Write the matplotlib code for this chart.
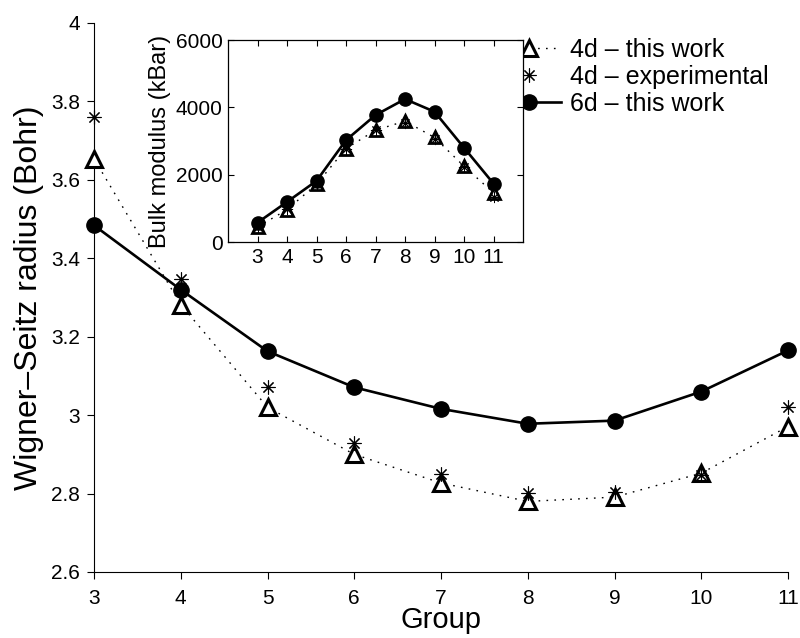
import matplotlib
matplotlib.use('Agg')
import matplotlib.pyplot as plt
from matplotlib.ticker import FuncFormatter

plt.rcParams['font.family'] = ['Liberation Sans', 'DejaVu Sans']

# group numbers of the transition metals
groups = [3, 4, 5, 6, 7, 8, 9, 10, 11]

# Wigner-Seitz radius (Bohr)
ws_4d = [3.654, 3.282, 3.020, 2.900, 2.827, 2.780, 2.791, 2.852, 2.971]
ws_4d_exp = [3.760, 3.348, 3.073, 2.930, 2.850, 2.801, 2.805, 2.848, 3.020]
ws_6d = [3.484, 3.320, 3.163, 3.071, 3.016, 2.978, 2.986, 3.060, 3.165]

# bulk modulus (kBar) for the inset
bulk_4d = [446, 960, 1715, 2775, 3320, 3590, 3105, 2250, 1460]
bulk_4d_exp = [450, 990, 1735, 2775, 3320, 3520, 3045, 2230, 1340]
bulk_6d = [575, 1190, 1815, 3025, 3770, 4245, 3870, 2800, 1735]

labels = ['4d – this work', '4d – experimental', '6d – this work']

W, H = 800, 638
fig = plt.figure(figsize=(W / 100, H / 100), dpi=100)

# main axes
ax = fig.add_axes([94 / W, 1 - 572 / H, (788 - 94) / W, (572 - 23) / H])
dots = (0, (1.2, 4.5))
star = (8, 2, 0)

ax.plot(groups, ws_4d, color='black', linestyle=dots, linewidth=1.0,
        marker='^', markersize=11, markerfacecolor='white', markeredgewidth=2.2,
        label=labels[0], clip_on=False, zorder=3)
ax.plot(groups, ws_4d_exp, color='black', linestyle='none',
        marker=star, markersize=10, markeredgewidth=0.8,
        label=labels[1], clip_on=False, zorder=4)
ax.plot(groups, ws_6d, color='black', linestyle='-', linewidth=1.9,
        marker='o', markersize=11, label=labels[2], clip_on=False, zorder=3)

ax.set_xlim(3, 11)
ax.set_ylim(2.6, 4)
ax.set_xticks(groups)
ax.set_yticks([2.6, 2.8, 3.0, 3.2, 3.4, 3.6, 3.8, 4.0])
ax.yaxis.set_major_formatter(FuncFormatter(lambda v, p: '%g' % round(v, 2)))
ax.spines['top'].set_visible(False)
ax.spines['right'].set_visible(False)
ax.tick_params(direction='out', length=5, width=0.8, labelsize=15, pad=5)
ax.tick_params(axis='x', pad=7)
ax.set_xlabel('Group', fontsize=21, labelpad=-1)
ax.set_ylabel('Wigner–Seitz radius (Bohr)', fontsize=23, labelpad=5)

leg = ax.legend(loc='upper left', bbox_to_anchor=(498 / W, 1 - 38 / H),
                bbox_transform=fig.transFigure, frameon=False, fontsize=18,
                handlelength=2.5, handletextpad=0.4, borderpad=0,
                borderaxespad=0, labelspacing=0.12, numpoints=1)

# inset: bulk modulus
ins = fig.add_axes([228 / W, 1 - 242 / H, (523 - 228) / W, (242 - 40) / H])
ins.plot(groups, bulk_4d, color='black', linestyle=dots, linewidth=1.0,
         marker='^', markersize=9, markerfacecolor='white', markeredgewidth=2.0,
         zorder=3)
ins.plot(groups, bulk_4d_exp, color='black', linestyle='none',
         marker=star, markersize=8, markeredgewidth=0.7, zorder=4)
ins.plot(groups, bulk_6d, color='black', linestyle='-', linewidth=1.9,
         marker='o', markersize=9.5, zorder=3)
ins.set_xlim(2, 12)
ins.set_ylim(0, 6000)
ins.set_xticks(groups)
ins.set_yticks([0, 2000, 4000, 6000])
ins.tick_params(direction='in', length=4, width=0.8, labelsize=15,
                top=True, right=True, pad=4)
ins.set_ylabel('Bulk modulus (kBar)', fontsize=17, labelpad=3)
for s in ins.spines.values():
    s.set_linewidth(0.9)

fig.savefig('out.png', dpi=100)
